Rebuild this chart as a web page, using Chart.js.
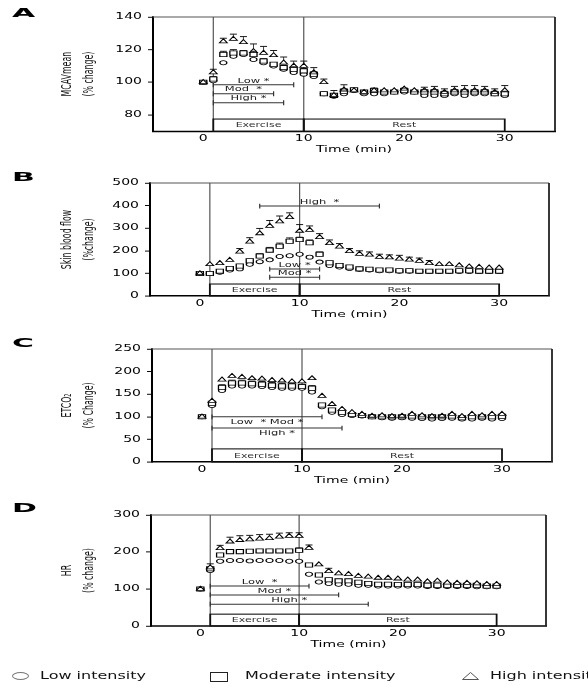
<!DOCTYPE html>
<html>
<head>
<meta charset="utf-8">
<script src="https://cdn.jsdelivr.net/npm/chart.js@4.4.1/dist/chart.umd.min.js"></script>
<style>
  html, body { margin:0; padding:0; background:#fff; overflow:hidden; }
  body { width:588px; height:691px; position:relative; font-family:'DejaVu Sans', sans-serif; }
  canvas { position:absolute; left:0; }
  .letter { position:absolute; left:12px; font:bold 20px/20px 'DejaVu Sans', sans-serif; transform:scale(1.5,0.62); transform-origin:left center; color:#000; }
  .leg { position:absolute; top:668px; font:16px/16px 'DejaVu Sans', sans-serif; transform:scaleY(0.6); transform-origin:left center; white-space:nowrap; color:#111; }
</style>
</head>
<body>
<canvas id="cA"></canvas>
<canvas id="cB"></canvas>
<canvas id="cC"></canvas>
<canvas id="cD"></canvas>

<div class="letter" style="top:2.5px">A</div>
<div class="letter" style="top:166.5px">B</div>
<div class="letter" style="top:333px">C</div>
<div class="letter" style="top:498px">D</div>

<div style="position:absolute;left:12px;top:672px;width:15px;height:6px;border:1px solid #777;border-radius:50%"></div>
<div class="leg" style="left:40px">Low intensity</div>
<div style="position:absolute;left:210px;top:672px;width:16px;height:8px;border:1.3px solid #222"></div>
<div class="leg" style="left:245px">Moderate intensity</div>
<svg style="position:absolute;left:462px;top:672px" width="17" height="8"><polygon points="0.5,7.5 8.5,0.5 16.5,7.5" fill="none" stroke="#555" stroke-width="1"/></svg>
<div class="leg" style="left:490px">High intensity</div>

<script>
// squash factor: the reference figure is flattened vertically
const SQ = 0.6;

const time = [0,1,2,3,4,5,6,7,8,9,10,11,12,13,14,15,16,17,18,19,20,21,22,23,24,25,26,27,28,29,30];
const xTicks = [0,10,20,30];

// A - MCAVmean
const mcavLow  = [100,101,112,116,117,114,112,110,108,106,105,103.5,93,91.5,93,95,93,93,93,94,94,94,92,92,92,93,92,93,93,93,92];
const mcavMod  = [100,102,117,118,118,117,113,111,109,108,107,105,93,92,94.5,95.5,94,95,94,94,95,94,94,94,93,94,94,94,94,93,93];
const mcavHigh = [100,106,125,126.5,124.5,119,118,116.5,112,110,110,106,100,92,95.5,95,94,95,95,95,96,95,95,95,94,95,95,95,95,94,95];
const mcavErrHigh = [0,2,2,3,3.5,4.5,4,3,3.5,3,3,3,2,3,3,1,1,1.5,1,1,1,1.5,2,2.5,2,2.5,3,3,2.5,2,3];
const mcavErrMod  = [0,1.5,2,2,1.5,2,1.5,1,1.5,1.5,1.5,1.5,1,1,1.5,1,1,1.5,1,1,1.5,1,1.5,1.5,1.5,1.5,1.5,1.5,1.5,1.5,1.5];
const mcavTicks = [80,100,120,140];
const mcavSigLabels = ['Low *','Mod  *','High *'];
const mcavSigStart = [1,1,1];
const mcavSigEnd = [9,7,8];
const mcavSigY = [98.5,93,87.5];

// B - Skin blood flow
const skinLow  = [100,100,105,115,120,140,152,160,175,178,185,172,150,135,128,122,118,115,112,112,110,110,108,108,108,108,108,108,108,108,108];
const skinMod  = [100,100,110,122,133,156,177,203,220,242,250,236,185,147,135,128,120,118,115,115,112,112,110,110,110,110,112,112,110,110,110];
const skinHigh = [100,140,145,159,196,240,277,310,330,348,288,292,260,233,218,198,186,182,172,170,165,160,155,145,140,140,135,130,128,125,125];
const skinErrHigh = [0,10,10,8,14,18,22,24,24,20,28,18,16,15,14,12,14,13,13,12,15,12,13,12,10,10,10,10,10,10,7];
const skinErrMod  = [0,3,4,5,6,8,10,12,14,15,10,12,10,8,6,5,4,4,4,3,3,3,3,3,3,3,3,3,3,3,3];
const skinTicks = [0,100,200,300,400,500];
const skinSigLabels = ['High  *','Low *','Mod *'];
const skinSigStart = [6,7,7];
const skinSigEnd = [18,12,12];
const skinSigY = [398,119,83];

// C - ETCO2
const etLow  = [100,125,158,168,168,168,167,165,163,163,163,155,122,110,105,103,102,100,98,97,98,97,96,95,96,97,95,95,97,95,96];
const etMod  = [100,130,165,175,175,173,172,170,168,168,167,163,126,115,110,105,103,100,100,100,100,102,100,100,100,102,98,100,100,100,101];
const etHigh = [100,135,182,190,188,185,184,181,180,178,178,185,146,128,117,110,106,102,103,101,102,106,103,101,102,106,101,106,103,106,106];
const etErrHigh = [0,4,5,5,5,4,4,4,4,4,4,5,4,4,4,3,3,2,2,2,2,3,3,3,3,3,3,3,3,3,3];
const etErrMod  = [0,3,6,6,6,6,6,6,6,6,5,6,3,3,3,2,2,2,2,2,2,4,3,3,3,4,3,4,3,4,4];
const etTicks = [0,50,100,150,200,250];
const etSigLabels = ['Low  * Mod *','High *'];
const etSigStart = [1,1];
const etSigEnd = [12,14];
const etSigY = [100,75];

// D - HR
const hrLow  = [100,150,175,177,177,176,177,177,177,175,175,140,119,115,113,113,110,110,108,108,108,108,108,107,107,107,107,107,106,106,106];
const hrMod  = [100,155,192,201,201,202,203,203,203,203,205,165,138,125,122,122,118,115,113,113,112,112,112,110,110,110,110,110,110,108,108];
const hrHigh = [100,158,210,228,232,234,236,237,241,243,243,211,166,148,142,140,135,133,130,130,128,125,125,120,122,117,116,116,115,113,113];
const hrErrHigh = [0,10,8,12,12,11,11,11,10,9,9,8,7,8,7,6,6,6,6,6,5,5,5,5,5,4,4,4,4,4,4];
const hrErrMod  = [0,5,5,5,5,5,5,5,5,5,6,5,4,4,4,4,3,3,3,3,3,3,3,3,3,3,3,3,3,3,3];
const hrTicks = [0,100,200,300];
const hrSigLabels = ['Low  *','Mod *','High *'];
const hrSigStart = [1,1,1];
const hrSigEnd = [11,14,17];
const hrSigY = [108,84,59];

Chart.defaults.font.family = "'DejaVu Sans', sans-serif";
Chart.defaults.color = '#000';

const panels = [
  { id:'cA', box:{top:17, bottom:131.3, left:153, right:555}, min:70, max:140, ticks:mcavTicks,
    title:['MCAVmean','(% change)'], low:mcavLow, mod:mcavMod, high:mcavHigh, errHigh:mcavErrHigh, errMod:mcavErrMod,
    boxTop:77.5, sig:{labels:mcavSigLabels, start:mcavSigStart, end:mcavSigEnd, y:mcavSigY, below:false} },
  { id:'cB', box:{top:183, bottom:296, left:150, right:549}, min:0, max:500, ticks:skinTicks,
    title:['Skin blood flow','(%change)'], low:skinLow, mod:skinMod, high:skinHigh, errHigh:skinErrHigh, errMod:skinErrMod,
    boxTop:53, sig:{labels:skinSigLabels, start:skinSigStart, end:skinSigEnd, y:skinSigY, below:false} },
  { id:'cC', box:{top:349, bottom:462, left:152, right:552}, min:0, max:250, ticks:etTicks,
    title:['ETCO\u2082','(% Change)'], low:etLow, mod:etMod, high:etHigh, errHigh:etErrHigh, errMod:etErrMod,
    boxTop:29, sig:{labels:etSigLabels, start:etSigStart, end:etSigEnd, y:etSigY, below:true} },
  { id:'cD', box:{top:515, bottom:626, left:151, right:546}, min:0, max:300, ticks:hrTicks,
    title:['HR','(% change)'], low:hrLow, mod:hrMod, high:hrHigh, errHigh:hrErrHigh, errMod:hrErrMod,
    boxTop:32, sig:{labels:hrSigLabels, start:hrSigStart, end:hrSigEnd, y:hrSigY, below:false} }
];

function hline(ctx, x0, x1, y) { ctx.beginPath(); ctx.moveTo(x0, y); ctx.lineTo(x1, y); ctx.stroke(); }
function vline(ctx, x, y0, y1) { ctx.beginPath(); ctx.moveTo(x, y0); ctx.lineTo(x, y1); ctx.stroke(); }

function makePanelPlugin(p) {
  return {
    id: 'panel',
    beforeDraw(chart) { chart.ctx.save(); chart.ctx.scale(1, SQ); },
    beforeDatasetsDraw(chart) {
      const ctx = chart.ctx, a = chart.chartArea;
      const xs = chart.scales.x, ys = chart.scales.y;
      ctx.save();
      // top and right frame
      ctx.strokeStyle = '#555'; ctx.lineWidth = 1.6;
      hline(ctx, a.left, a.right, a.top);
      ctx.strokeStyle = '#222'; ctx.lineWidth = 1.8;
      vline(ctx, a.right, a.top, a.bottom);
      // exercise start / end
      ctx.strokeStyle = '#555'; ctx.lineWidth = 1.2;
      vline(ctx, xs.getPixelForValue(1), a.top, a.bottom);
      vline(ctx, xs.getPixelForValue(10), a.top, a.bottom);
      // Exercise / Rest boxes
      const yb = ys.getPixelForValue(p.boxTop);
      const x1 = xs.getPixelForValue(1), x10 = xs.getPixelForValue(10), x30 = xs.getPixelForValue(30);
      ctx.strokeStyle = '#111'; ctx.lineWidth = 1.8;
      ctx.strokeRect(x1, yb, x10 - x1, a.bottom - yb);
      ctx.strokeRect(x10, yb, x30 - x10, a.bottom - yb);
      ctx.fillStyle = '#333'; ctx.font = "11px 'DejaVu Sans'";
      ctx.textAlign = 'center'; ctx.textBaseline = 'middle';
      ctx.fillText('Exercise', (x1 + x10) / 2, (yb + a.bottom) / 2 + 1);
      ctx.fillText('Rest', (x10 + x30) / 2, (yb + a.bottom) / 2 + 1);
      // significance bars
      const s = p.sig;
      ctx.strokeStyle = '#333'; ctx.fillStyle = '#222';
      ctx.font = "11.5px 'DejaVu Sans'";
      s.labels.forEach((lab, i) => {
        const xa = xs.getPixelForValue(s.start[i]), xb = xs.getPixelForValue(s.end[i]);
        const y = ys.getPixelForValue(s.y[i]);
        ctx.lineWidth = 1.7; hline(ctx, xa, xb, y);
        ctx.lineWidth = 1.2; vline(ctx, xa, y - 4, y + 4); vline(ctx, xb, y - 4, y + 4);
        ctx.textBaseline = s.below ? 'top' : 'bottom';
        ctx.fillText(lab, (xa + xb) / 2, s.below ? y + 3 : y - 1);
      });
      ctx.restore();
    },
    afterDatasetsDraw(chart) {
      const ctx = chart.ctx, xs = chart.scales.x, ys = chart.scales.y;
      ctx.save();
      ctx.strokeStyle = '#111';
      const bars = [[p.mod, p.errMod, 3.5], [p.high, p.errHigh, 4.5]];
      bars.forEach(([vals, err, half]) => {
        vals.forEach((v, i) => {
          if (!err[i]) return;
          const x = xs.getPixelForValue(time[i]);
          const y0 = ys.getPixelForValue(v) - half;
          const y1 = ys.getPixelForValue(v + err[i]);
          if (y1 >= y0) return;
          ctx.lineWidth = 1; vline(ctx, x, y0, y1);
          ctx.lineWidth = 1.6; hline(ctx, x - 3.5, x + 3.5, y1);
        });
      });
      ctx.restore();
    },
    afterDraw(chart) { chart.ctx.restore(); }
  };
}

panels.forEach(p => {
  const b = p.box;
  const padTop = 17 / SQ;
  const area = (b.bottom - b.top) / SQ;
  const H = Math.ceil(padTop + area + 40);
  const xH = H - padTop - area;
  const cv = document.getElementById(p.id);
  cv.width = 588; cv.height = H;
  cv.style.top = (b.top - 17) + 'px';

  const pts = vals => time.map((t, i) => ({ x: t, y: vals[i] }));
  const marker = (label, vals, style, r) => ({
    label, data: pts(vals), pointStyle: style, pointRadius: r,
    pointBackgroundColor: '#fff', pointBorderColor: '#000', pointBorderWidth: 1.3, showLine: false
  });

  new Chart(cv, {
    type: 'scatter',
    data: {
      datasets: [
        marker('High intensity', p.high, 'triangle', 4.5),
        marker('Moderate intensity', p.mod, 'rect', 5),
        marker('Low intensity', p.low, 'circle', 3.5)
      ]
    },
    options: {
      responsive: false,
      maintainAspectRatio: false,
      animation: false,
      events: [],
      layout: { padding: { top: padTop, right: 588 - b.right, left: 0, bottom: 0 } },
      plugins: { legend: { display: false }, tooltip: { enabled: false } },
      scales: {
        x: {
          type: 'linear', min: -5, max: 35,
          afterBuildTicks: ax => { ax.ticks = xTicks.map(v => ({ value: v })); },
          afterFit: ax => { ax.height = xH; },
          grid: { display: false, drawTicks: false },
          border: { display: true, color: '#000', width: 2.5 },
          ticks: { padding: 4, font: { size: 14 }, color: '#000', maxRotation: 0, autoSkip: false },
          title: { display: true, text: 'Time (min)', font: { size: 14 }, color: '#000',
                   padding: { top: 0, bottom: Math.max(0, xH - 40) } }
        },
        y: {
          min: p.min, max: p.max,
          afterBuildTicks: ax => { ax.ticks = p.ticks.map(v => ({ value: v })); },
          afterFit: ax => { ax.width = b.left; },
          grid: { drawOnChartArea: false, tickLength: 5, color: '#000', lineWidth: 1.6 },
          border: { display: true, color: '#000', width: 2 },
          ticks: { padding: 6, font: { size: 14 }, color: '#000' },
          title: { display: true, text: p.title, color: '#111',
                   font: { family: "'DejaVu Sans Condensed', 'DejaVu Sans', sans-serif", size: 14.5, lineHeight: '22px' },
                   padding: { top: 56.5, bottom: 0 } }
        }
      }
    },
    plugins: [makePanelPlugin(p)]
  });
});
</script>
</body>
</html>
